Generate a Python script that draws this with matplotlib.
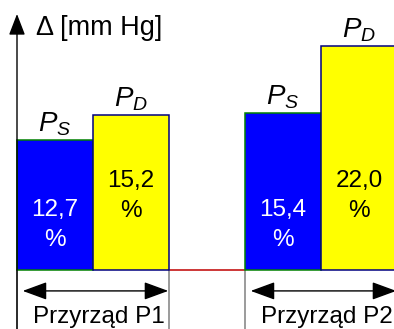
import matplotlib
matplotlib.use("Agg")
import matplotlib.pyplot as plt

plt.rcParams['font.family'] = ['Liberation Sans', 'DejaVu Sans']
plt.rcParams['mathtext.fontset'] = 'custom'
plt.rcParams['mathtext.it'] = 'Liberation Sans:italic'
plt.rcParams['mathtext.rm'] = 'Liberation Sans'

# pressure differences [%] for the two devices
devices = ['Przyrząd P1', 'Przyrząd P2']
ps_values = [12.7, 15.4]
pd_values = [15.2, 22.0]
ps_labels = ['12,7\n%', '15,4\n%']
pd_labels = ['15,2\n%', '22,0\n%']

fig = plt.figure(figsize=(3.94, 3.29), dpi=100)
ax = fig.add_axes([0, 0, 1, 1])
ax.set_xlim(-17 / 76, 377 / 76)
ax.set_ylim(-59 / 10.2, 270 / 10.2)
ax.axis('off')

group_left = [0, 3]
for i in range(2):
    x0 = group_left[i]
    ax.bar(x0, ps_values[i], width=1, align='edge', color='#0000ff',
           edgecolor='#008000', linewidth=1.1, zorder=3)
    ax.bar(x0 + 1, pd_values[i], width=1, align='edge', color='#ffff00',
           edgecolor='#000080', linewidth=1.1, zorder=3)
    ax.text(x0 + 0.5, 4.4, ps_labels[i], color='white', ha='center', va='center',
            fontsize=17.5, linespacing=1.45, zorder=4)
    ax.text(x0 + 1.5, 7.25, pd_labels[i], color='black', ha='center', va='center',
            fontsize=17.5, linespacing=1.45, zorder=4)
    ax.annotate('$P_S$', (x0 + 0.5, ps_values[i]), xytext=(0, 1.5),
                textcoords='offset points', ha='center', va='bottom', fontsize=20)
    ax.annotate('$P_D$', (x0 + 1.5, pd_values[i]), xytext=(0, 1.5),
                textcoords='offset points', ha='center', va='bottom', fontsize=20)
    # double arrow spanning the device
    ax.annotate('', xy=(x0 + 0.075, -2.05), xytext=(x0 + 1.99, -2.05),
                arrowprops=dict(arrowstyle='<|-|>,head_length=1.5,head_width=0.55',
                                mutation_scale=10, color='black', lw=1,
                                shrinkA=0, shrinkB=0))
    ax.text(x0 + 1.08, -5.15, devices[i], ha='center', va='baseline', fontsize=17.5)

# baseline between the groups and separators
ax.plot([2, 3], [0, 0], color='#c00000', lw=1.1, zorder=2)
ax.plot([2, 2], [-6, 0], color='#808080', lw=1.1)
ax.plot([3, 3], [-6, 0], color='#808080', lw=1.1)

# vertical axis with arrow head
ax.annotate('', xy=(0, 25.1), xytext=(0, -6),
            arrowprops=dict(arrowstyle='-|>,head_length=1.3,head_width=0.5',
                            mutation_scale=10, color='black', lw=1,
                            shrinkA=0, shrinkB=0))
ax.plot([0, 0], [-6, 0], color='#808080', lw=1.1, zorder=1)
ax.text(0.25, 23.7, 'Δ [mm Hg]', ha='left', va='center', fontsize=19.5)

fig.savefig('out.png', dpi=100)
